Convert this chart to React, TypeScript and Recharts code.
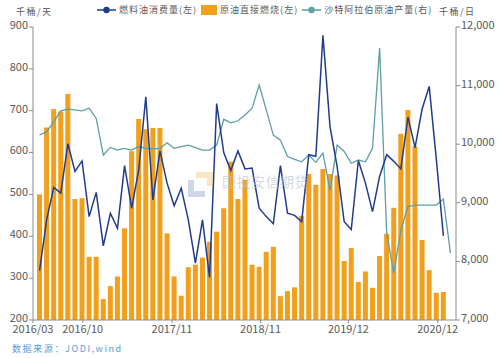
import { ComposedChart, Bar, Line, XAxis, YAxis } from "recharts"

// monthly categories 2016/03 .. 2021/01
const months: string[] = []
for (let n = 0; n < 59; n++) {
  const t = 2016 * 12 + 2 + n
  const y = Math.floor(t / 12)
  const m = (t % 12) + 1
  months.push(`${y}/${m < 10 ? "0" + m : m}`)
}

// 原油直接燃烧 (left axis)
const crudeBurn = [
  500, 660, 704, 698, 740, 489, 491, 351, 351, 250, 281, 304,
  419, 603, 680, 656, 659, 659, 407, 304, 258, 326, 332, 349,
  387, 411, 467, 578, 489, 535, 332, 327, 363, 375, 257, 269,
  278, 449, 549, 523, 561, 549, 545, 341, 372, 291, 316, 277,
  353, 406, 468, 645, 702, 615, 391, 319, 265, 267,
]

// 燃料油消费量 (left axis)
const fuelOil = [
  318, 439, 517, 503, 621, 555, 580, 447, 505, 377, 455, 419,
  569, 467, 559, 733, 487, 604, 527, 473, 515, 439, 336, 439,
  302, 717, 600, 557, 604, 561, 563, 467, 447, 430, 569, 455,
  450, 435, 595, 591, 880, 662, 567, 435, 416, 581, 527, 459,
  543, 595, 579, 561, 685, 612, 704, 758, 585, 401,
]

// 沙特阿拉伯原油产量 (right axis)
const saudiOutput = [
  10160, 10210, 10380, 10570, 10600, 10585, 10570, 10615, 10440, 9815, 9945, 9900,
  9930, 9900, 9960, 9930, 9920, 9930, 10025, 9930, 9960, 9985, 9940, 9900,
  9900, 9985, 10425, 10365, 10400, 10500, 10615, 11010, 10585, 10155, 10070, 9790,
  9740, 9700, 9815, 9690, 9850, 9210, 9985, 9875, 9675, 9730, 9700, 9930,
  11640, 8480, 7800, 8535, 8935, 8960, 8960, 8960, 8960, 9065, 8140,
]

const leftTicks = [200, 300, 400, 500, 600, 700, 800, 900]
const rightTicks = [7000, 8000, 9000, 10000, 11000, 12000]
const dateLabels = ["2016/03", "2016/10", "2017/11", "2018/11", "2019/12", "2020/12"]
const datePos = [-0.92, 6.1, 18.7, 31.2, 43.6, 56.2]

const data = months.map((month, i) => ({
  month,
  idx: i,
  burn: crudeBurn[i] ?? null,
  fuel: fuelOil[i] ?? null,
  saudi: saudiOutput[i] ?? null,
}))

const FONT = '"Noto Sans CJK SC", "Noto Sans", sans-serif'
const AXIS = "#8c8c8c"
const TEXT = "#595959"
const BLUE = "#1f3c8e"
const ORANGE = "#f29f1b"
const TEAL = "#5f9ea3"

function LegendItem({ kind, color, label }: { kind: "line" | "bar"; color: string; label: string }) {
  return (
    <div style={{ display: "flex", alignItems: "center", marginRight: 4 }}>
      {kind === "line" ? (
        <svg width={19} height={10}>
          <line x1={0} y1={5} x2={19} y2={5} stroke={color} strokeWidth={1.5} />
          <circle cx={9.5} cy={5} r={3.2} fill={color} />
        </svg>
      ) : (
        <div style={{ width: 16, height: 10, background: color }} />
      )}
      <span style={{ marginLeft: 3 }}>{label}</span>
    </div>
  )
}

export default function App() {
  return (
    <div style={{ position: "absolute", left: 0, top: 0, width: 500, height: 358, background: "#fff", fontFamily: FONT }}>
      <div style={{ position: "absolute", left: 16, top: 5, fontSize: 9, letterSpacing: 1.5, color: TEXT }}>千桶/天</div>
      <div style={{ position: "absolute", left: 439, top: 5, fontSize: 9, letterSpacing: 1.5, color: TEXT }}>千桶/日</div>
      <div
        style={{
          position: "absolute",
          left: 97,
          top: 3,
          display: "flex",
          fontSize: 9,
          letterSpacing: 1,
          color: TEXT,
          whiteSpace: "nowrap",
        }}
      >
        <LegendItem kind="line" color={BLUE} label="燃料油消费量(左)" />
        <LegendItem kind="bar" color={ORANGE} label="原油直接燃烧(左)" />
        <LegendItem kind="line" color={TEAL} label="沙特阿拉伯原油产量(右)" />
      </div>

      <ComposedChart width={500} height={358} data={data} margin={{ top: 27, right: 0, bottom: 18, left: 0 }}>
        <XAxis xAxisId="cat" dataKey="month" hide height={0} padding={{ left: 3, right: 2 }} />
        <XAxis
          xAxisId="lbl"
          type="number"
          dataKey="idx"
          domain={[-0.92, 58.78]}
          allowDataOverflow
          ticks={datePos}
          interval={0}
          tickFormatter={(v: number) => dateLabels[datePos.indexOf(v)]}
          height={20}
          stroke={AXIS}
          tickSize={3}
          tickMargin={2}
          tick={{ fill: TEXT, fontSize: 11, fontFamily: FONT }}
        />
        <YAxis
          yAxisId="l"
          domain={[200, 900]}
          ticks={leftTicks}
          interval={0}
          width={33}
          stroke={AXIS}
          tickSize={4}
          tickMargin={1}
          tick={{ fill: TEXT, fontSize: 11, fontFamily: FONT, dy: -2 }}
        />
        <YAxis
          yAxisId="r"
          orientation="right"
          domain={[7000, 12000]}
          ticks={rightTicks}
          interval={0}
          width={44}
          stroke={AXIS}
          tickSize={4}
          tickMargin={1}
          tickFormatter={(v: number) => v.toLocaleString("en-US")}
          tick={{ fill: TEXT, fontSize: 11, fontFamily: FONT, dy: -2 }}
        />
        <Bar xAxisId="cat" yAxisId="l" dataKey="burn" fill={ORANGE} barSize={5} isAnimationActive={false} />
        <Line
          xAxisId="cat"
          yAxisId="r"
          dataKey="saudi"
          stroke={TEAL}
          strokeWidth={1.3}
          dot={false}
          isAnimationActive={false}
        />
        <Line
          xAxisId="cat"
          yAxisId="l"
          dataKey="fuel"
          stroke={BLUE}
          strokeWidth={1.5}
          dot={false}
          isAnimationActive={false}
        />
      </ComposedChart>

      {/* watermark */}
      <div style={{ position: "absolute", left: 188, top: 172, width: 25, height: 25, opacity: 0.35, pointerEvents: "none" }}>
        <div style={{ position: "absolute", left: 8, top: 0, width: 17, height: 6, background: "#f0b860" }} />
        <div style={{ position: "absolute", left: 19, top: 0, width: 6, height: 14, background: "#f0b860" }} />
        <div style={{ position: "absolute", left: 0, top: 8, width: 6, height: 17, background: "#6f8fc0" }} />
        <div style={{ position: "absolute", left: 0, top: 19, width: 17, height: 6, background: "#6f8fc0" }} />
      </div>
      <div
        style={{
          position: "absolute",
          left: 222,
          top: 171,
          fontSize: 14,
          letterSpacing: 0.5,
          color: "#b8bfcc",
          opacity: 0.6,
          pointerEvents: "none",
        }}
      >
        国投安信期货
      </div>

      <div style={{ position: "absolute", left: 12, top: 342, fontSize: 9, letterSpacing: 1.6, color: "#5b9bd5" }}>
        数据来源：JODI,wind
      </div>
    </div>
  )
}
